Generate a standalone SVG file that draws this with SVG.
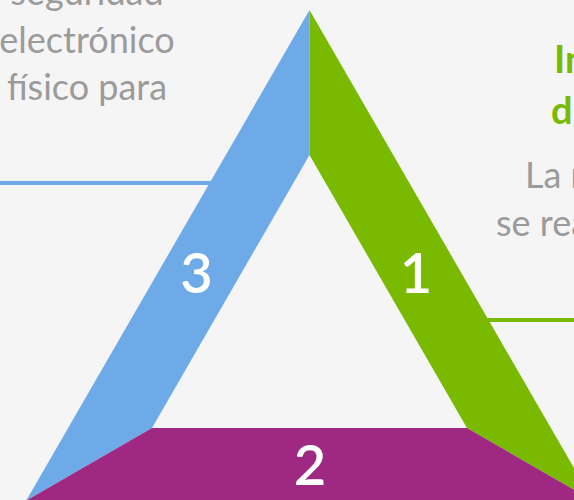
<svg xmlns="http://www.w3.org/2000/svg" width="574" height="500" viewBox="0 0 574 500">
  <style>
    .body { font-family: Lato, "Open Sans", "Liberation Sans", sans-serif; font-size: 36px; fill: #9b9b9b; }
    .head { font-family: Lato, "Open Sans", "Liberation Sans", sans-serif; font-size: 38px; font-weight: bold; fill: #79b900; }
    .num { font-family: Lato, "Open Sans", "Liberation Sans", sans-serif; font-size: 56px; font-weight: 600; fill: #ffffff; text-anchor: middle; }
  </style>
  <rect x="0" y="0" width="574" height="500" fill="#f5f5f5"/>
  <g id="connectors">
    <line x1="0" y1="183" x2="215" y2="183" stroke="#6eaae8" stroke-width="4"/>
    <line x1="484" y1="320" x2="574" y2="320" stroke="#79b900" stroke-width="4"/>
  </g>
  <g id="text-left">
    <text class="body" x="87" y="5" text-anchor="middle">seguridad</text>
    <text class="body" x="87" y="52.5" text-anchor="middle">electrónico</text>
    <text class="body" x="87" y="100" text-anchor="middle">físico para</text>
  </g>
  <g id="text-right">
    <text class="head" x="554" y="73">In</text>
    <text class="head" x="551" y="124">d</text>
    <text class="body" x="525" y="188">La r</text>
    <text class="body" x="496" y="236">se rea</text>
  </g>
  <g id="node-3">
    <polygon points="309.5,10 309.5,155 152,428 26.2,500.6" fill="#6eaae8"/>
    <text class="num" x="196.5" y="293">3</text>
  </g>
  <g id="node-1">
    <polygon points="309.5,10 592.8,500.6 467,428 309.5,155" fill="#79b900"/>
    <text class="num" x="416" y="293">1</text>
  </g>
  <g id="node-2">
    <polygon points="152,428 467,428 592.8,500.6 26.2,500.6" fill="#9e2882"/>
    <text class="num" x="310" y="485">2</text>
  </g>
</svg>
